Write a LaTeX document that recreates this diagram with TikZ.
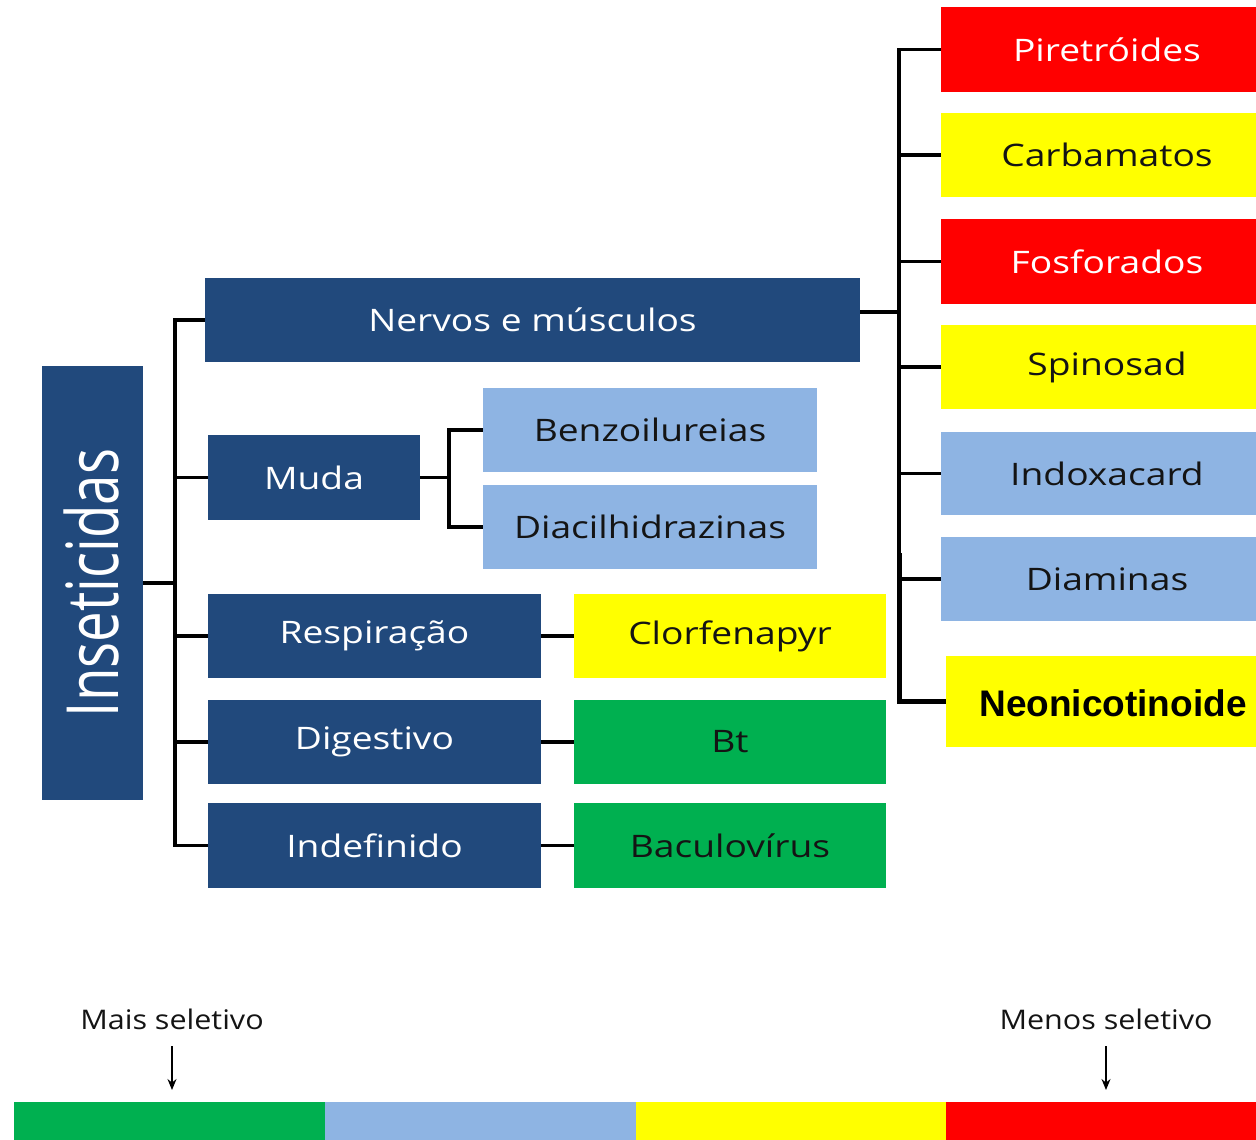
\documentclass[tikz,border=0pt]{standalone}
\usepackage{fontspec}
\setmainfont{Open Sans}
\newfontfamily\arialbold{Liberation Sans}
\usetikzlibrary{arrows.meta}
\definecolor{navy}{RGB}{33,73,124}
\definecolor{lblue}{RGB}{142,180,227}
\definecolor{yel}{RGB}{255,255,0}
\definecolor{redc}{RGB}{255,0,0}
\definecolor{grn}{RGB}{0,176,80}
\definecolor{ink}{RGB}{20,20,20}
% wide lettering used in all the boxes
\newcommand{\widetxt}[1]{\scalebox{1.2}[1]{#1}}
\tikzset{
  box/.style={rectangle, inner sep=0pt, font=\fontsize{31}{36}\selectfont},
  navybox/.style={box, fill=navy, text=white},
  bluebox/.style={box, fill=lblue, text=ink},
  yelbox/.style={box, fill=yel, text=ink},
  redbox/.style={box, fill=redc, text=white},
  grnbox/.style={box, fill=grn, text=ink},
  rlabel/.style={inner sep=0pt, font=\fontsize{31}{36}\selectfont},
  conn/.style={line width=3.2pt, black},
  thickconn/.style={line width=5pt, black},
  lbl/.style={font=\fontsize{27}{30}\selectfont, text=ink}
}
\begin{document}
\begin{tikzpicture}[x=1pt,y=-1pt]
\useasboundingbox (0,0) rectangle (1256,1140);
\fill[white] (0,0) rectangle (1256,1140);

% root
\node[navybox, minimum width=101, minimum height=434] (ins) at (92.5,583) {};
\node[text=white, rotate=90, font=\fontsize{60}{66}\selectfont, inner sep=0pt] (inslbl) at (91,583) {\scalebox{0.91}[1.2]{Inseticidas}};

% first level
\node[navybox, minimum width=655, minimum height=84] (nerv) at (532.5,320) {\widetxt{Nervos e músculos}};
\node[navybox, minimum width=212, minimum height=85] (muda) at (314,477.5) {\widetxt{Muda}};
\node[navybox, minimum width=333, minimum height=84] (resp) at (374.5,636) {\widetxt{Respiração}};
\node[navybox, minimum width=333, minimum height=84] (dige) at (374.5,742) {\widetxt{Digestivo}};
\node[navybox, minimum width=333, minimum height=85] (inde) at (374.5,845.5) {\widetxt{Indefinido}};

% second level
\node[bluebox, minimum width=334, minimum height=84] (benz) at (650,430) {\widetxt{Benzoilureias}};
\node[bluebox, minimum width=334, minimum height=84] (diac) at (650,527) {\widetxt{Diacilhidrazinas}};
\node[yelbox, minimum width=312, minimum height=84] (clor) at (730,636) {\widetxt{Clorfenapyr}};
\node[grnbox, minimum width=312, minimum height=84] (bt) at (730,742) {\widetxt{Bt}};
\node[grnbox, minimum width=312, minimum height=85] (bacu) at (730,845.5) {\widetxt{Baculovírus}};

% nerve and muscle groups
\node[redbox, minimum width=315, minimum height=85] (pire) at (1098.5,49.5) {};
\node[yelbox, minimum width=315, minimum height=84] (carb) at (1098.5,155) {};
\node[redbox, minimum width=315, minimum height=85] (fosf) at (1098.5,261.5) {};
\node[yelbox, minimum width=315, minimum height=84] (spin) at (1098.5,367) {};
\node[bluebox, minimum width=315, minimum height=83] (indo) at (1098.5,473.5) {};
\node[bluebox, minimum width=315, minimum height=84] (diam) at (1098.5,579) {};
\node[yelbox, minimum width=310, minimum height=91] (neon) at (1101,701.5) {};
\node[rlabel, text=white] (pirel) at (1107,49.5) {\widetxt{Piretróides}};
\node[rlabel, text=ink] (carbl) at (1107,155) {\widetxt{Carbamatos}};
\node[rlabel, text=white] (fosfl) at (1107,261.5) {\widetxt{Fosforados}};
\node[rlabel, text=ink] (spinl) at (1107,367) {\widetxt{Spinosad}};
\node[rlabel, text=ink] (indol) at (1107,473.5) {\widetxt{Indoxacard}};
\node[rlabel, text=ink] (diaml) at (1107,579) {\widetxt{Diaminas}};
\node[rlabel, text=black, font=\arialbold\bfseries\fontsize{37}{42}\selectfont] (neonl) at (1113,703) {Neonicotinoide};

% trunks
\coordinate (lt) at (175,0);
\coordinate (mt) at (449,0);
\coordinate (rt) at (899,0);

% left tree
\draw[conn] (nerv.west) -- (nerv.west -| lt) -- (inde.west -| lt) -- (inde.west);
\draw[conn] (ins.east) -- (ins.east -| lt);
\draw[conn] (muda.west) -- (muda.west -| lt);
\draw[conn] (resp.west) -- (resp.west -| lt);
\draw[conn] (dige.west) -- (dige.west -| lt);

% molting branch
\draw[conn] (muda.east) -- (muda.east -| mt);
\draw[conn] (benz.west) -- (benz.west -| mt) -- (diac.west -| mt) -- (diac.west);

% one-to-one links
\draw[conn] (resp.east) -- (clor.west);
\draw[conn] (dige.east) -- (bt.west);
\draw[conn] (inde.east) -- (bacu.west);

% right tree
\draw[conn] ([yshift=8pt]nerv.east) -- ([yshift=8pt]nerv.east -| rt);
\draw[conn] (pire.west) -- (pire.west -| rt) -- (diam.west -| rt) -- (diam.west);
\draw[conn] (carb.west) -- (carb.west -| rt);
\draw[conn] (fosf.west) -- (fosf.west -| rt);
\draw[conn] (spin.west) -- (spin.west -| rt);
\draw[conn] (indo.west) -- (indo.west -| rt);
\coordinate (nt) at (899,553);
\draw[thickconn] (nt) -- (neon.west -| nt) -- (neon.west);

% selectivity scale
\node[lbl] (mais) at (172,1019) {\scalebox{1.13}[1]{Mais seletivo}};
\node[lbl] (menos) at (1106,1019) {\scalebox{1.13}[1]{Menos seletivo}};
\coordinate (ma) at (172,1090);
\coordinate (me) at (1106,1090);
\draw[line width=1.6pt, -{Stealth[length=11pt,width=9pt]}] (mais.south |- 0,1046) -- (ma);
\draw[line width=1.6pt, -{Stealth[length=11pt,width=9pt]}] (menos.south |- 0,1046) -- (me);
\fill[grn] (14,1102) rectangle (325,1140);
\fill[lblue] (325,1102) rectangle (636,1140);
\fill[yel] (636,1102) rectangle (946,1140);
\fill[redc] (946,1102) rectangle (1256,1140);
\end{tikzpicture}
\end{document}
